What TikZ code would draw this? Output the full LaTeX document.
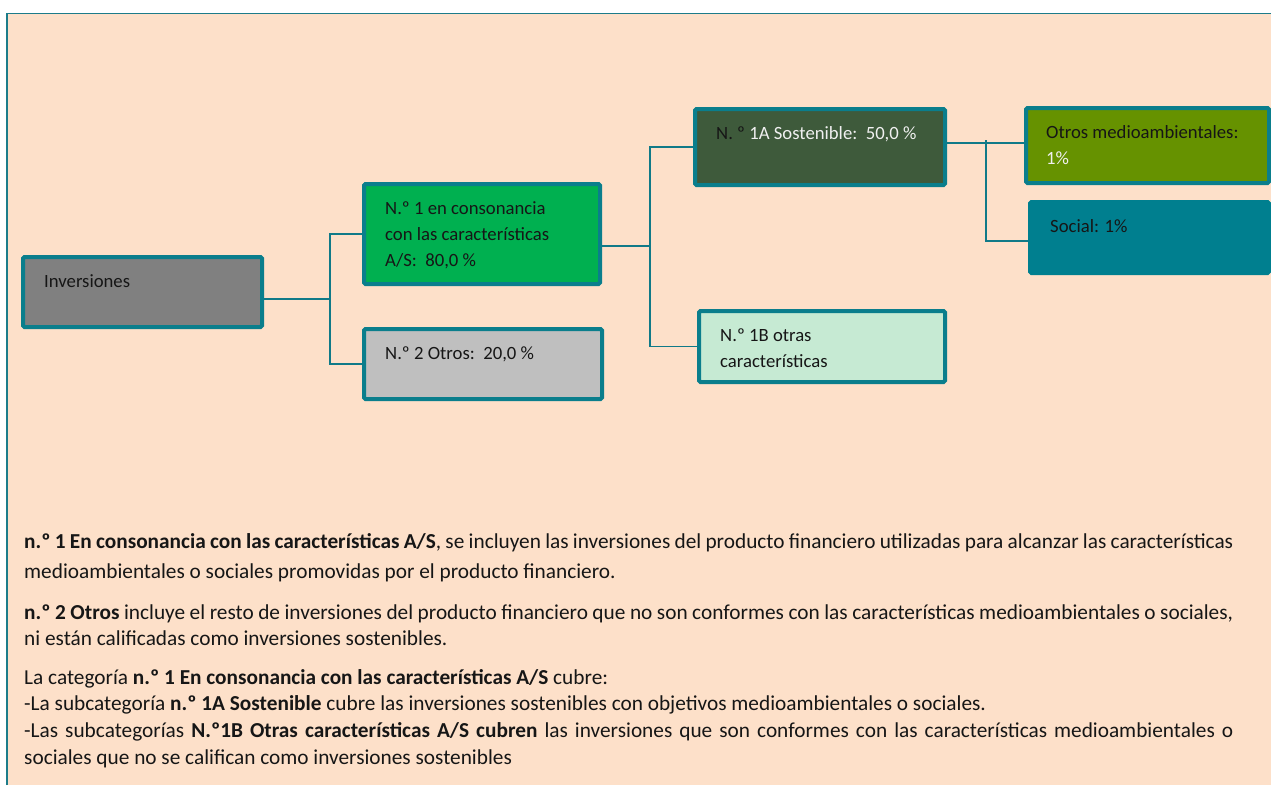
\documentclass[tikz,border=0pt]{standalone}
\usepackage{fontspec}
\setmainfont{Carlito}
\definecolor{peach}{RGB}{253,224,201}
\definecolor{framec}{RGB}{28,124,138}
\definecolor{bordc}{RGB}{10,126,140}
\definecolor{connc}{RGB}{16,122,136}
\definecolor{invc}{RGB}{128,128,128}
\definecolor{n1c}{RGB}{0,176,80}
\definecolor{n2c}{RGB}{191,191,191}
\definecolor{a1c}{RGB}{62,90,59}
\definecolor{b1c}{RGB}{198,234,211}
\definecolor{omc}{RGB}{102,146,0}
\definecolor{socc}{RGB}{0,127,143}
\definecolor{txtd}{RGB}{22,22,22}
\definecolor{txtw}{RGB}{240,240,240}
\begin{document}
\begin{tikzpicture}[x=1pt,y=-1pt,
  box/.style={draw=bordc, line width=4pt, rounded corners=1.5pt, inner sep=0pt},
  conn/.style={draw=connc, line width=1.8pt},
  btxt/.style={anchor=north west, inner sep=0pt, align=left, text=txtd,
    font=\fontsize{18.7pt}{25.8pt}\selectfont},
  ptxt/.style={anchor=north west, inner sep=0pt, align=left, text=txtd}]
% canvas and frame
\fill[white] (0,0) rectangle (1271,785);
\useasboundingbox (0,0) rectangle (1271,785);
\fill[peach] (7,13) rectangle (1271,785);
\draw[framec, line width=1.5pt] (7,785) -- (7,13.5) -- (1271,13.5);
% boxes
\node[box, fill=invc, minimum width=239pt, minimum height=70pt] (inv) at (142.5,292) {};
\node[box, fill=n1c, minimum width=236pt, minimum height=100pt] (n1) at (482,234) {};
\node[box, fill=n2c, minimum width=238pt, minimum height=70pt] (n2) at (483,364) {};
\node[box, fill=a1c, minimum width=250pt, minimum height=76pt] (a1) at (820,147) {};
\node[box, fill=b1c, minimum width=246pt, minimum height=71pt] (b1) at (822,346.5) {};
\node[box, fill=omc, minimum width=243pt, minimum height=75pt] (om) at (1147.5,145.5) {};
\node[box, draw=socc, fill=socc, minimum width=239pt, minimum height=71pt] (soc) at (1149.5,237.5) {};
% box texts
\node[btxt] (inv-t) at ([xshift=23pt,yshift=-12.5pt]inv.north west) {\rule{0pt}{20pt}Inversiones};
\node[btxt] (n1-t) at ([xshift=23pt,yshift=-12.5pt]n1.north west) {\rule{0pt}{20pt}N.º 1 en consonancia\\ con las características\\ A/S:\ \ 80,0 \%};
\node[btxt] (n2-t) at ([xshift=23pt,yshift=-12.5pt]n2.north west) {\rule{0pt}{20pt}N.º 2 Otros:\ \ 20,0 \%};
\node[btxt, text=txtw] (a1-t) at ([xshift=23pt,yshift=-12.5pt]a1.north west) {\rule{0pt}{20pt}{\color{txtd}N. º} 1A Sostenible:\ \ 50,0 \%};
\node[btxt] (b1-t) at ([xshift=23pt,yshift=-12.5pt]b1.north west) {\rule{0pt}{20pt}N.º 1B otras\\ características};
\node[btxt] (om-t) at ([xshift=22pt,yshift=-12.5pt]om.north west) {\rule{0pt}{20pt}Otros medioambientales:\\ {\color{txtw}1\%}};
\node[btxt] (soc-t) at ([xshift=22pt,yshift=-12.5pt]soc.north west) {\rule{0pt}{20pt}Social: 1\%};
% connectors
\coordinate (bus1) at (330,0);
\coordinate (bus2) at (650,0);
\coordinate (bus3) at (986,140);
\draw[conn] ([yshift=-7pt]inv.east) -| (n1.west -| bus1) -- (n1.west);
\draw[conn] (n1.west -| bus1) |- (n2.west);
\draw[conn] ([yshift=-12pt]n1.east) -| (a1.west -| bus2) -- (a1.west);
\draw[conn] (a1.west -| bus2) |- (b1.west);
\draw[conn] ([yshift=4pt]a1.east) -- ([yshift=4pt]a1.east -| om.west);
\draw[conn] (bus3) |- ([yshift=-3.5pt]soc.west);
% explanatory text
\node[ptxt, font=\fontsize{21.3pt}{30pt}\selectfont] (p1) at (24,528)
  {\rule{0pt}{20pt}\makebox[1209pt][s]{\textbf{n.º 1 En consonancia con las características A/S}, se incluyen las inversiones del producto financiero utilizadas para alcanzar las características}\\
   medioambientales o sociales promovidas por el producto financiero.};
\node[ptxt, font=\fontsize{21.3pt}{26pt}\selectfont] (p2) at (24,599)
  {\rule{0pt}{20pt}\makebox[1209pt][s]{\textbf{n.º 2 Otros} incluye el resto de inversiones del producto financiero que no son conformes con las características medioambientales o sociales,}\\
   ni están calificadas como inversiones sostenibles.};
\node[ptxt, font=\fontsize{21.3pt}{26.7pt}\selectfont] (p3) at (24,664)
  {\rule{0pt}{20pt}La categoría \textbf{n.º 1 En consonancia con las características A/S} cubre:\\
   -La subcategoría \textbf{n.º 1A Sostenible} cubre las inversiones sostenibles con objetivos medioambientales o sociales.\\
   \makebox[1209pt][s]{-Las subcategorías \textbf{N.º1B Otras características A/S cubren} las inversiones que son conformes con las características medioambientales o}\\
   sociales que no se califican como inversiones sostenibles};
\end{tikzpicture}
\end{document}
